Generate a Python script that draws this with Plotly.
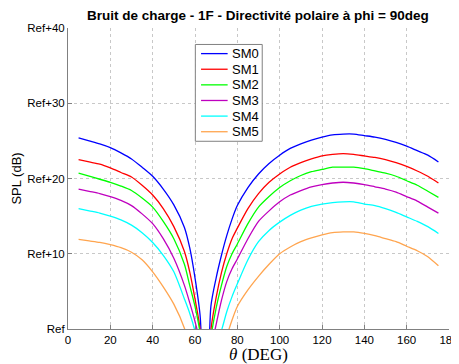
import plotly.graph_objects as go

theta = [5, 10, 15, 20, 25, 30, 35, 40, 45, 50, 55, 57.5, 60, 62.5, 65, 67.5, 70, 72.5, 75, 77.5,
         80, 85, 90, 95, 100, 105, 110, 115, 120, 125, 130, 135, 140, 145, 150, 155, 160, 165, 170, 175]

sm0 = [25.4, 25.0, 24.6, 24.1, 23.4, 22.6, 21.5, 20.3, 18.6, 16.5, 13.5, 10.8, 6.8, 1.5, -20, 3.0, 6.8, 9.8, 12.4, 14.6,
       16.4, 18.8, 20.6, 22.0, 23.1, 24.0, 24.6, 25.1, 25.5, 25.8, 25.9, 25.9, 25.7, 25.5, 25.2, 24.8, 24.3, 23.7, 23.1, 22.2]
sm1 = [22.5, 22.2, 21.9, 21.4, 20.8, 20.2, 19.1, 17.8, 16.0, 13.6, 10.3, 7.6, 4.0, -0.3, -22, -0.2, 4.2, 7.5, 10.0, 12.0,
       13.4, 16.0, 18.0, 19.5, 20.6, 21.5, 22.1, 22.6, 23.0, 23.2, 23.3, 23.2, 23.0, 22.8, 22.5, 22.1, 21.6, 21.0, 20.3, 19.4]
sm2 = [20.7, 20.3, 19.9, 19.5, 19.0, 18.4, 17.4, 16.2, 14.3, 12.0, 8.6, 5.8, 3.0, -0.8, -24, -1.3, 2.8, 5.8, 8.3, 10.0,
       11.3, 14.0, 16.2, 17.6, 18.8, 19.7, 20.4, 20.9, 21.2, 21.5, 21.5, 21.5, 21.3, 21.0, 20.7, 20.3, 19.7, 19.1, 18.3, 17.5]
sm3 = [18.6, 18.3, 18.0, 17.6, 17.1, 16.4, 15.3, 14.0, 12.0, 9.4, 5.8, 3.5, 1.0, -2.2, -26, -3.0, 0.6, 3.8, 6.3, 8.0,
       9.3, 12.0, 14.3, 15.7, 16.9, 17.8, 18.4, 18.9, 19.2, 19.4, 19.5, 19.4, 19.2, 18.9, 18.6, 18.2, 17.6, 17.0, 16.2, 15.4]
sm4 = [16.0, 15.7, 15.4, 15.0, 14.5, 13.8, 12.8, 11.5, 9.8, 7.6, 4.0, 2.1, -0.3, -4.0, -28, -5.0, -2.0, -0.2, 2.3, 4.3,
       6.0, 9.2, 11.6, 13.1, 14.2, 15.1, 15.8, 16.3, 16.6, 16.8, 16.9, 16.9, 16.6, 16.4, 16.0, 15.5, 14.9, 14.3, 13.6, 12.7]
sm5 = [11.9, 11.7, 11.5, 11.2, 10.8, 10.2, 9.2, 7.6, 5.6, 3.3, 0.1, -2.5, -5.0, -10.0, -35, -12.0, -7.0, -3.5, -1.0, 1.2,
       3.0, 5.2, 7.0, 8.6, 10.0, 10.9, 11.6, 12.1, 12.5, 12.8, 12.9, 12.9, 12.7, 12.4, 12.0, 11.6, 11.0, 10.4, 9.6, 8.4]

series_names = ["SM0", "SM1", "SM2", "SM3", "SM4", "SM5"]
series_values = [sm0, sm1, sm2, sm3, sm4, sm5]
colors = ["#0000FF", "#FF0000", "#00FF00", "#BF00BF", "#00FFFF", "#FFA54F"]

x_ticks = [0, 20, 40, 60, 80, 100, 120, 140, 160, 180]
y_ticks = [0, 10, 20, 30, 40]
y_tick_labels = ["Ref", "Ref+10", "Ref+20", "Ref+30", "Ref+40"]

fig = go.Figure()
for name, vals, col in zip(series_names, series_values, colors):
    fig.add_trace(go.Scatter(x=theta, y=vals, mode="lines", name=name, showlegend=False,
                             line=dict(color=col, width=1.3, shape="spline", smoothing=0.7)))

# Compact legend box (MATLAB-style spacing) drawn in paper coordinates
leg_x0, leg_x1 = 0.3342, 0.5098
leg_y0, leg_y1 = 0.6237, 0.9453
fig.add_shape(type="rect", xref="paper", yref="paper", x0=leg_x0, x1=leg_x1, y0=leg_y0, y1=leg_y1,
              line=dict(color="#808080", width=1), fillcolor="white", layer="above")
row_top = 0.9149
row_step = 0.0519
for i, (name, col) in enumerate(zip(series_names, colors)):
    yy = row_top - i * row_step
    fig.add_shape(type="line", xref="paper", yref="paper", x0=0.3492, x1=0.4190, y0=yy, y1=yy,
                  line=dict(color=col, width=1.3), layer="above")
    fig.add_annotation(xref="paper", yref="paper", x=0.4265, y=yy, xanchor="left", yanchor="middle",
                       text=name, showarrow=False, font=dict(size=13))

# The page body has an 8px default margin, so the figure is sized/offset to compensate
fig.update_layout(
    width=451, height=356,
    margin=dict(l=59.5, r=10, t=19.5, b=35),
    paper_bgcolor="white", plot_bgcolor="white",
    font=dict(family="Liberation Sans, Arial, sans-serif", size=11.5, color="black"),
    title=dict(text="<b>Bruit de charge - 1F - Directivité polaire à phi = 90deg</b>",
               x=0.554, xanchor="center", y=0.979, yanchor="middle",
               font=dict(size=13.5)),
    showlegend=False,
)
fig.update_xaxes(range=[0, 180], tickvals=x_ticks, showgrid=True, automargin=False,
                 gridcolor="#C8C8C8", griddash="dot", gridwidth=1,
                 showline=True, linecolor="#808080", linewidth=1,
                 ticks="inside", ticklen=4, tickcolor="#808080",
                 zeroline=False,
                 title=dict(text="<i>θ</i> (DEG)", standoff=0,
                            font=dict(family="Liberation Serif, Times New Roman, serif", size=17)))
fig.update_yaxes(range=[0, 40], tickvals=y_ticks, ticktext=y_tick_labels, showgrid=True, automargin=False,
                 gridcolor="#C8C8C8", griddash="dot", gridwidth=1,
                 showline=True, linecolor="#808080", linewidth=1,
                 ticks="inside", ticklen=4, tickcolor="#808080",
                 zeroline=False,
                 title=dict(text="SPL (dB)", standoff=2, font=dict(size=13)))

fig.write_html("out.html")
